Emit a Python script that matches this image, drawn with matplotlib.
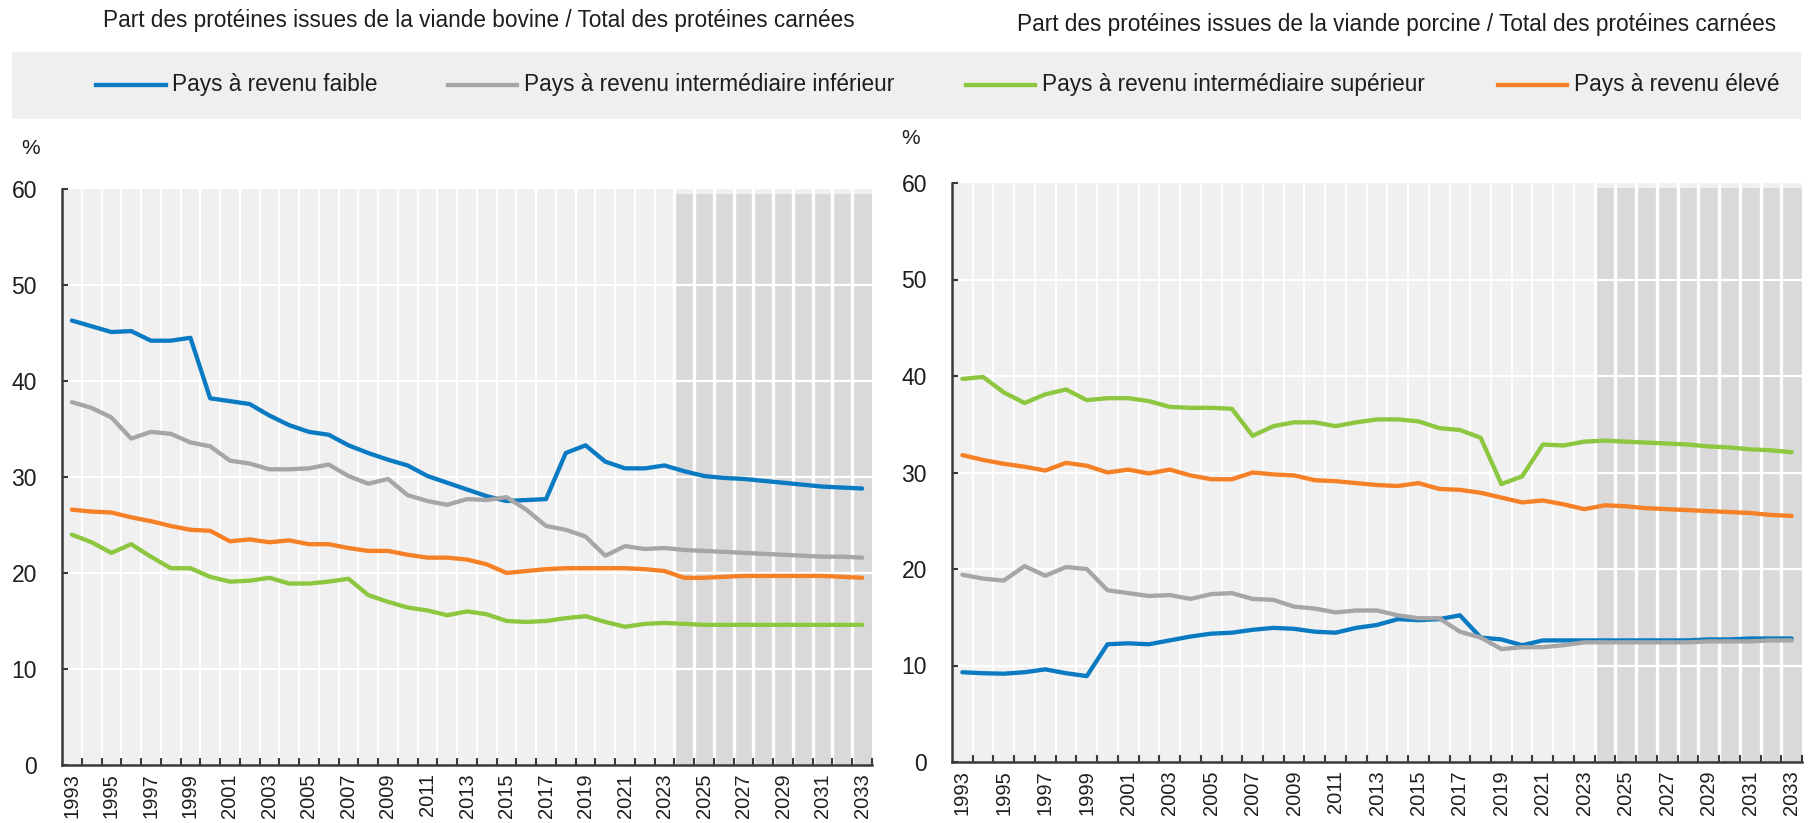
import matplotlib
matplotlib.use('Agg')
import matplotlib.pyplot as plt
from matplotlib.lines import Line2D
from matplotlib.patches import Rectangle

plt.rcParams['font.family'] = ['Liberation Sans', 'DejaVu Sans']

# ---------------- data ----------------
years = list(range(1993, 2034))
projection_years = list(range(2024, 2034))
label_years = list(range(1993, 2034, 2))

series_names = ["Pays à revenu faible",
                "Pays à revenu intermédiaire inférieur",
                "Pays à revenu intermédiaire supérieur",
                "Pays à revenu élevé"]
colors = ['#0a7bc2', '#a6a6a6', '#8dc63f', '#f58025']

titles = ["Part des protéines issues de la viande bovine / Total des protéines carnées",
          "Part des protéines issues de la viande porcine / Total des protéines carnées"]

beef_low = [46.3, 45.7, 45.1, 45.2, 44.2, 44.2, 44.5, 38.2, 37.9, 37.6,
            36.4, 35.4, 34.7, 34.4, 33.3, 32.5, 31.8, 31.2, 30.1, 29.4,
            28.7, 28.0, 27.5, 27.6, 27.7, 32.5, 33.3, 31.6, 30.9, 30.9,
            31.2, 30.6, 30.1, 29.9, 29.8, 29.6, 29.4, 29.2, 29.0, 28.9, 28.8]
beef_lower_mid = [37.8, 37.2, 36.2, 34.0, 34.7, 34.5, 33.6, 33.2, 31.7, 31.4,
                  30.8, 30.8, 30.9, 31.3, 30.1, 29.3, 29.8, 28.1, 27.5, 27.1,
                  27.7, 27.6, 27.9, 26.6, 24.9, 24.5, 23.8, 21.8, 22.8, 22.5,
                  22.6, 22.4, 22.3, 22.2, 22.1, 22.0, 21.9, 21.8, 21.7, 21.7, 21.6]
beef_upper_mid = [24.0, 23.2, 22.1, 23.0, 21.7, 20.5, 20.5, 19.6, 19.1, 19.2,
                  19.5, 18.9, 18.9, 19.1, 19.4, 17.7, 17.0, 16.4, 16.1, 15.6,
                  16.0, 15.7, 15.0, 14.9, 15.0, 15.3, 15.5, 14.9, 14.4, 14.7,
                  14.8, 14.7, 14.6, 14.6, 14.6, 14.6, 14.6, 14.6, 14.6, 14.6, 14.6]
beef_high = [26.6, 26.4, 26.3, 25.8, 25.4, 24.9, 24.5, 24.4, 23.3, 23.5,
             23.2, 23.4, 23.0, 23.0, 22.6, 22.3, 22.3, 21.9, 21.6, 21.6,
             21.4, 20.9, 20.0, 20.2, 20.4, 20.5, 20.5, 20.5, 20.5, 20.4,
             20.2, 19.5, 19.5, 19.6, 19.7, 19.7, 19.7, 19.7, 19.7, 19.6, 19.5]

pork_low = [9.3, 9.2, 9.15, 9.3, 9.6, 9.2, 8.9, 12.2, 12.3, 12.2,
            12.6, 13.0, 13.3, 13.4, 13.7, 13.9, 13.8, 13.5, 13.4, 13.9,
            14.2, 14.8, 14.7, 14.8, 15.2, 12.9, 12.7, 12.1, 12.6, 12.6,
            12.6, 12.6, 12.6, 12.6, 12.6, 12.6, 12.7, 12.7, 12.8, 12.8, 12.8]
pork_lower_mid = [19.4, 19.0, 18.8, 20.3, 19.3, 20.2, 20.0, 17.8, 17.5, 17.2,
                  17.3, 16.9, 17.4, 17.5, 16.9, 16.8, 16.1, 15.9, 15.5, 15.7,
                  15.7, 15.2, 14.9, 14.9, 13.5, 12.9, 11.7, 11.9, 11.9, 12.1,
                  12.4, 12.4, 12.4, 12.4, 12.4, 12.4, 12.5, 12.5, 12.5, 12.6, 12.6]
pork_upper_mid = [39.7, 39.9, 38.3, 37.2, 38.1, 38.6, 37.5, 37.7, 37.7, 37.4,
                  36.8, 36.7, 36.7, 36.6, 33.8, 34.8, 35.2, 35.2, 34.8, 35.2,
                  35.5, 35.5, 35.3, 34.6, 34.4, 33.6, 28.8, 29.6, 32.9, 32.8,
                  33.2, 33.3, 33.2, 33.1, 33.0, 32.9, 32.7, 32.6, 32.4, 32.3, 32.1]
pork_high = [31.8, 31.3, 30.9, 30.6, 30.2, 31.0, 30.7, 30.0, 30.3, 29.9,
             30.3, 29.7, 29.3, 29.3, 30.0, 29.8, 29.7, 29.2, 29.1, 28.9,
             28.7, 28.6, 28.9, 28.3, 28.2, 27.9, 27.4, 26.9, 27.1, 26.7,
             26.2, 26.6, 26.5, 26.3, 26.2, 26.1, 26.0, 25.9, 25.8, 25.6, 25.5]

y_ticks = [0, 10, 20, 30, 40, 50, 60]

panels = [
    [beef_low, beef_lower_mid, beef_upper_mid, beef_high],
    [pork_low, pork_lower_mid, pork_upper_mid, pork_high],
]

# ---------------- figure ----------------
W, H = 1816, 823
fig = plt.figure(figsize=(W / 100, H / 100), dpi=100)

axes_boxes = [
    (62 / W, (H - 765) / H, 810 / W, 576 / H),
    (952 / W, (H - 762) / H, 850 / W, 579 / H),
]

BG = '#f0f0f0'
DARK = '#d9d9d9'
SPINE = '#3a3a3a'
TXT = '#1e1e1e'

for box, data in zip(axes_boxes, panels):
    ax = fig.add_axes(box)
    ax.set_facecolor(BG)
    ax.set_xlim(years[0] - 0.5, years[-1] + 0.5)
    ax.set_ylim(0, 60)

    # projection bands
    for yr in projection_years:
        ax.axvspan(yr - 0.5, yr + 0.5, ymin=0, ymax=0.992, color=DARK, lw=0, zorder=0.5)
    # white separators between years
    for yr in years[:-1]:
        lw = 2.4 if yr >= projection_years[0] - 1 else 1.5
        ax.axvline(yr + 0.5, color='white', lw=lw, zorder=0.8)
    for yv in y_ticks[1:-1]:
        ax.axhline(yv, color='white', lw=1.6, zorder=0.9)

    for vals, c in zip(data, colors):
        ax.plot(years, vals, color=c, lw=3.1, solid_capstyle='round',
                solid_joinstyle='round', zorder=3)

    for s in ['top', 'right']:
        ax.spines[s].set_visible(False)
    for s in ['left', 'bottom']:
        ax.spines[s].set_color(SPINE)
        ax.spines[s].set_linewidth(1.8)

    ax.set_yticks(y_ticks)
    ax.set_yticklabels([str(v) for v in y_ticks])
    ax.tick_params(axis='y', direction='in', length=4, width=1.5, color=SPINE,
                   labelsize=16.5, pad=18, labelcolor=TXT)

    ax.set_xticks([yr + 0.5 for yr in years])
    ax.set_xticklabels([])
    ax.set_xticks(label_years, minor=True)
    ax.set_xticklabels([str(y) for y in label_years], minor=True, rotation=90)
    ax.tick_params(axis='x', which='major', direction='in', length=5, width=1.5,
                   color=SPINE)
    ax.tick_params(axis='x', which='minor', length=0, labelsize=14.5, pad=6,
                   labelcolor=TXT)

# titles
fig.text(479 / W, 1 - 21 / H, titles[0], ha='center', va='center', fontsize=16.3,
         color=TXT)
fig.text(1397 / W, 1 - 25 / H, titles[1], ha='center', va='center', fontsize=16.3,
         color=TXT)

# % labels
fig.text(31 / W, 1 - 148 / H, '%', ha='center', va='center', fontsize=15, color=TXT)
fig.text(911 / W, 1 - 139 / H, '%', ha='center', va='center', fontsize=15, color=TXT)

# legend band
fig.add_artist(Rectangle((12 / W, 1 - 119 / H), 1789 / W, 67 / H,
                         transform=fig.transFigure, facecolor='#efefef',
                         edgecolor='none', zorder=0))
leg_y = 1 - 85 / H
line_x = [(96, 166), (448, 517), (966, 1035), (1498, 1567)]
text_x = [172, 524, 1042, 1574]
for (x0, x1), tx, name, c in zip(line_x, text_x, series_names, colors):
    fig.add_artist(Line2D([x0 / W, x1 / W], [leg_y, leg_y], transform=fig.transFigure,
                          color=c, lw=3.1))
    fig.text(tx / W, leg_y, name, ha='left', va='center', fontsize=16.3, color=TXT)

fig.savefig('out.png', dpi=100)
